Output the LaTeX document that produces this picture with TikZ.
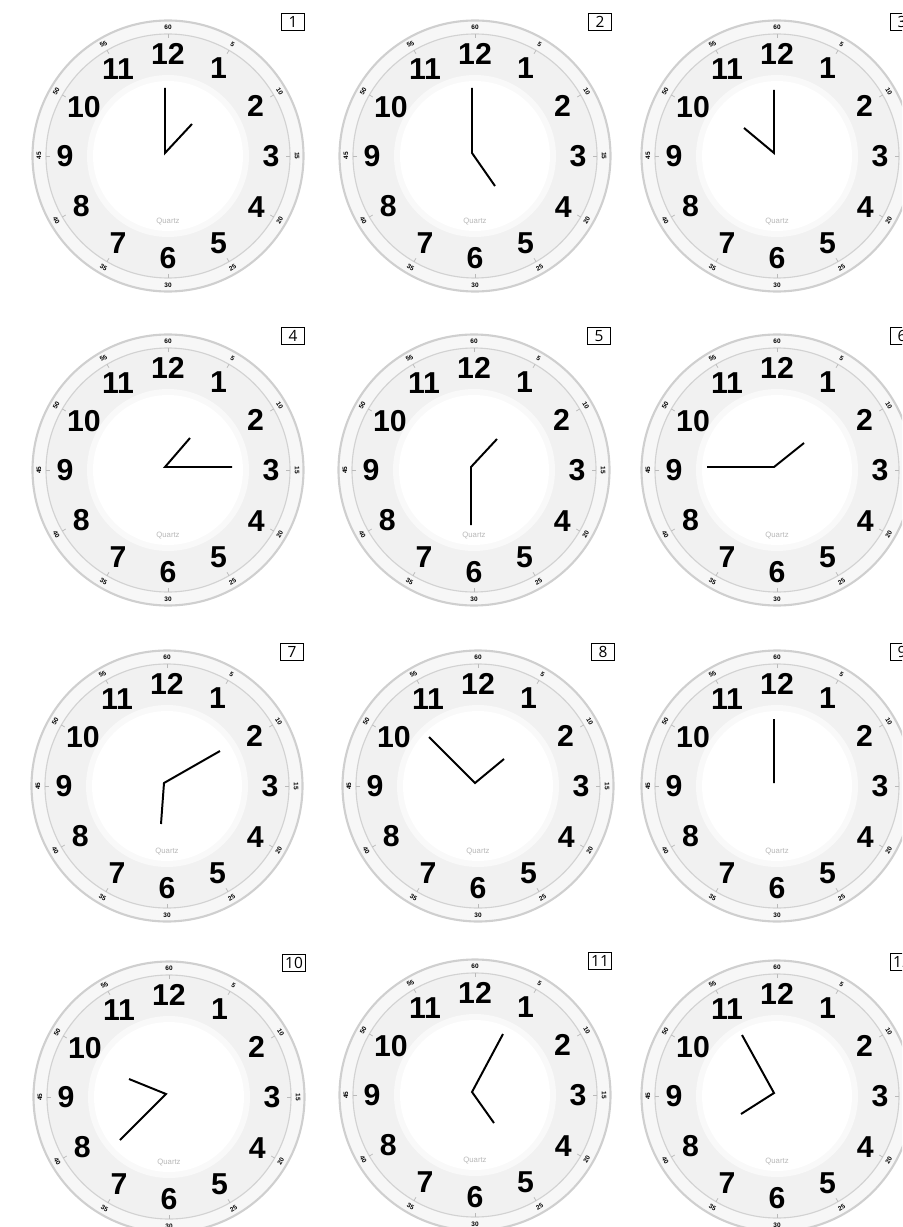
\documentclass[tikz,border=0pt]{standalone}
\usepackage{fontspec}
\setmainfont{Liberation Sans}
\newfontfamily\boxfont{Open Sans}

\tikzset{
  hournum/.style={font=\fontsize{21.5}{21.5}\selectfont\bfseries, inner sep=0pt},
  minnum/.style={font=\fontsize{4.6}{4.6}\selectfont\bfseries, inner sep=0pt},
  hand/.style={line width=1.4pt, black},
  tagbox/.style={draw, line width=0.6pt, font=\boxfont\fontsize{11}{11}\selectfont,
    minimum width=0.575cm, minimum height=0.44cm, inner sep=1pt},
}

\begin{document}
\begin{tikzpicture}[x=0.025cm, y=-0.025cm]
  \useasboundingbox (0,0) rectangle (902,1227);
  \clip (0,0) rectangle (902,1227);

  % n / pivot x,y / hour hand / minute hand
  \foreach \n/\cx/\cy/\hx/\hy/\mx/\my in {
      1/165/153/27/-29/0/-65,
      2/472/153/23/33/0/-65,
      3/774/153/-30/-25/0/-63,
      4/165/467/25/-29/67/0,
      5/471/467/26/-28/0/58,
      6/774/467/30/-24/-67/0,
      7/164/783/-3/41/56/-32,
      8/475/783/29/-24/-46/-46,
      9/774/783/0/-40/0/-64,
      10/166/1094/-37/-15/-46/46,
      11/472/1092/22/31/31/-58,
      12/774/1093/-33/21/-32/-58}{
    \pgfmathsetmacro\fx{\cx+3}
    \pgfmathsetmacro\fy{\cy+3}

    % face
    \fill[gray!6] (\fx,\fy) circle[radius=135.5];
    \draw[gray!38, line width=1.5pt] (\fx,\fy) circle[radius=135.5];
    \fill[gray!11] (\fx,\fy) circle[radius=122];
    \draw[gray!35, line width=0.8pt] (\fx,\fy) circle[radius=122];
    \fill[gray!5] (\fx,\fy) circle[radius=81];
    \fill[white] (\fx,\fy) circle[radius=75];

    % small marks and minute labels
    \foreach \lab/\m/\r in {60/0/0, 5/5/-30, 10/10/-60, 15/15/-90, 20/20/60, 25/25/30,
                            30/30/0, 35/35/-30, 40/40/-60, 45/45/90, 50/50/60, 55/55/30}{
      \draw[gray!55, line width=0.5pt] ({\fx+118*sin(6*\m)},{\fy-118*cos(6*\m)})
        -- ({\fx+122*sin(6*\m)},{\fy-122*cos(6*\m)});
      \node[minnum, rotate=\r] (mn\n-\m) at ({\fx+129*sin(6*\m)},{\fy-129*cos(6*\m)}) {\lab};
    }

    % hour numbers
    \foreach \h/\rr in {1/101, 2/101, 3/103, 4/102, 5/101, 6/102,
                        7/100, 8/100, 9/103, 10/97, 11/100, 12/102}
      \node[hournum] (num\n-\h) at ({\fx+\rr*sin(30*\h)},{\fy-\rr*cos(30*\h)}) {\h};

    \node[font=\fontsize{5.5}{5.5}\selectfont, text=gray!55] (qz\n) at (\fx,\fy+66) {Quartz};
    \node[tagbox, anchor=east] (box\n) at (\fx+137,\fy-134) {\n};

    % hands
    \coordinate (piv\n) at (\cx,\cy);
    \coordinate (hr\n) at (\cx+\hx,\cy+\hy);
    \coordinate (min\n) at (\cx+\mx,\cy+\my);
    \draw[hand] (hr\n) -- (piv\n) -- (min\n);
  }
\end{tikzpicture}
\end{document}
